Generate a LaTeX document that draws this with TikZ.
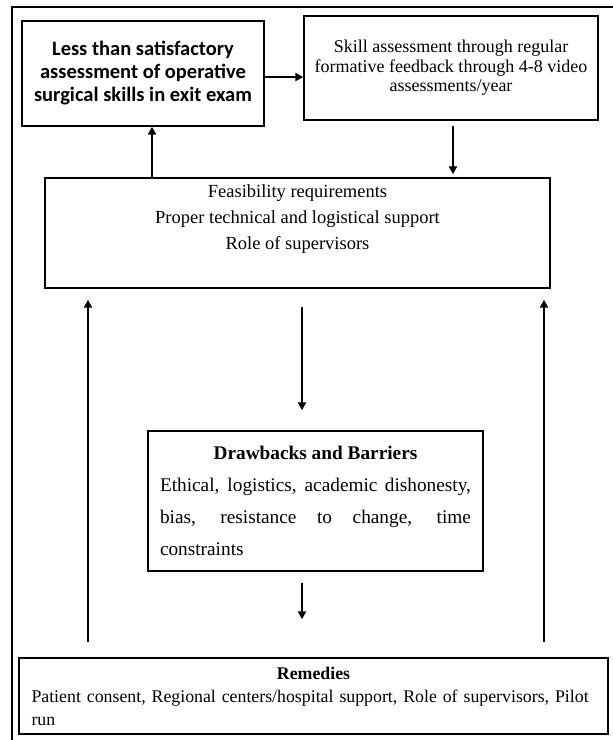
\documentclass[tikz,border=0pt]{standalone}
\usepackage{fontspec}
\setmainfont{Liberation Serif}
\newfontfamily\headfont{Carlito}
\usetikzlibrary{arrows.meta,positioning}
\tikzset{
  box/.style={draw, line width=1.4pt, inner sep=0pt, align=center},
  arr/.style={line width=2.6pt, -{Triangle[length=8pt,width=8pt]}}
}
\begin{document}
\begin{tikzpicture}[x=1pt,y=-1pt]
		\useasboundingbox (0,0) rectangle (613,740);
		\fill[white] (0,0) rectangle (613,740);
		\draw[line width=2pt] (12,740) -- (12,7) -- (613,7);

		\node[box, minimum width=242pt, minimum height=105pt, font=\headfont\bfseries\fontsize{20.5}{23}\selectfont] (lsat) at (143,73.5)
			{Less than satisfactory\\assessment of operative\\surgical skills in exit exam};
		\node[box, minimum width=294pt, minimum height=104pt, font=\fontsize{18}{19.5}\selectfont] (skill) at (451,68)
			{Skill assessment through regular\\formative feedback through 4-8 video\\assessments/year};

		\node[box, minimum width=505pt, minimum height=110pt] (feas) at (297.5,233) {};
		\node[align=center, anchor=north, inner sep=0pt, font=\fontsize{18.5}{26}\selectfont] (feastxt) at (297.5,184)
			{Feasibility requirements\\Proper technical and logistical support\\Role of supervisors};

		\node[box, minimum width=335pt, minimum height=140pt, text width=311pt, align=justify, font=\fontsize{19.3}{32}\selectfont] (drw) at (315.5,501)
			{\centering\textbf{Drawbacks and Barriers}\par
			 Ethical, logistics, academic dishonesty,\linebreak bias, resistance to change, time\linebreak constraints};

		\node[box, minimum width=589pt, minimum height=76pt, text width=564pt, align=left, font=\fontsize{17.8}{23}\selectfont] (rem) at (313.5,696)
			{\hfill\textbf{Remedies}\hfill\null\\
			 Patient consent, Regional centers/hospital support, Role of supervisors, Pilot\linebreak run};

		% connectors
		\draw[arr] ([yshift=-3.5pt]lsat.east) -- ([yshift=-3.5pt]lsat.east -| skill.west);
		\draw[arr] ([xshift=9pt]lsat.south |- feas.north) -- ([xshift=9pt]lsat.south);
		\draw[arr, shorten <=5pt, shorten >=3pt] ([xshift=2pt]skill.south) -- ([xshift=2pt]skill.south |- feas.north);
		\draw[arr, shorten <=18pt, shorten >=20pt] ([xshift=4.5pt]feas.south) -- ([xshift=4.5pt]feas.south |- drw.north);
		\draw[arr, shorten <=11pt, shorten >=38pt] ([xshift=-13.5pt]drw.south) -- ([xshift=-13.5pt]drw.south |- rem.north);
		\draw[arr, shorten <=15pt, shorten >=11pt] ([xshift=-225.5pt]rem.north) -- ([xshift=-225.5pt]rem.north |- feas.south);
		\draw[arr, shorten <=15pt, shorten >=11pt] ([xshift=230.5pt]rem.north) -- ([xshift=230.5pt]rem.north |- feas.south);
	\end{tikzpicture}
\end{document}
